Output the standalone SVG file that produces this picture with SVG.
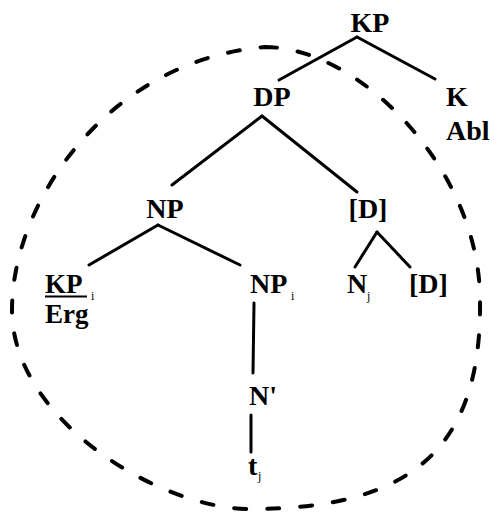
<svg xmlns="http://www.w3.org/2000/svg" width="494" height="512" viewBox="0 0 494 512">
<style>
  .t { font-family: "Liberation Serif", "Times New Roman", serif; font-weight: bold; font-size: 28px; fill: #000; }
  .s { font-family: "Liberation Serif", "Times New Roman", serif; font-size: 12px; fill: #000; }
  .e { stroke: #000; stroke-width: 3; fill: none; stroke-linecap: round; }
  .d { stroke: #000; stroke-width: 4; fill: none; stroke-linecap: round; stroke-dasharray: 12 21; }
</style>
<rect width="494" height="512" fill="#fff"/>
<g id="connectors">
  <line class="e" x1="357" y1="37" x2="279" y2="80"/>
  <line class="e" x1="357" y1="37" x2="435" y2="79"/>
  <line class="e" x1="262" y1="116" x2="172" y2="185"/>
  <line class="e" x1="262" y1="116" x2="357" y2="192"/>
  <line class="e" x1="158" y1="225" x2="89" y2="265"/>
  <line class="e" x1="158" y1="225" x2="240" y2="265"/>
  <line class="e" x1="377" y1="232" x2="355" y2="267"/>
  <line class="e" x1="377" y1="232" x2="410" y2="267"/>
  <line class="e" x1="254" y1="303" x2="253" y2="373"/>
  <line class="e" x1="251" y1="415" x2="251" y2="452"/>
</g>
<g id="boundary">
  <path class="d" d="M265,47 C360,47 480,170 480,300 C482,450 410,509 250,509 C160,509 12,420 12,310 C12,200 110,60 265,47 Z"/>
</g>
<g id="n-KP"><text class="t" x="370" y="32" text-anchor="middle">KP</text></g>
<g id="n-DP"><text class="t" x="272" y="106" text-anchor="middle">DP</text></g>
<g id="n-K"><text class="t" x="446" y="106">K</text><text class="t" x="446" y="140">Abl</text></g>
<g id="n-NP"><text class="t" x="165" y="218" text-anchor="middle">NP</text></g>
<g id="n-D1"><text class="t" x="368" y="218" text-anchor="middle">[D]</text></g>
<g id="n-KPi">
  <text class="t" x="45" y="293" style="font-size:27px">KP</text><text class="s" x="91" y="300">i</text>
  <line x1="45" y1="296.5" x2="87" y2="296.5" stroke="#000" stroke-width="2"/>
  <text class="t" x="45" y="323" style="font-size:27px">Erg</text>
</g>
<g id="n-NPi"><text class="t" x="250" y="293">NP</text><text class="s" x="291" y="300">i</text></g>
<g id="n-Nj"><text class="t" x="347" y="293">N</text><text class="s" x="367" y="300">j</text></g>
<g id="n-D2"><text class="t" x="409" y="293">[D]</text></g>
<g id="n-Nbar"><text class="t" x="249" y="405">N'</text></g>
<g id="n-t"><text class="t" x="248" y="475">t</text><text class="s" x="258" y="480">j</text></g>
</svg>
